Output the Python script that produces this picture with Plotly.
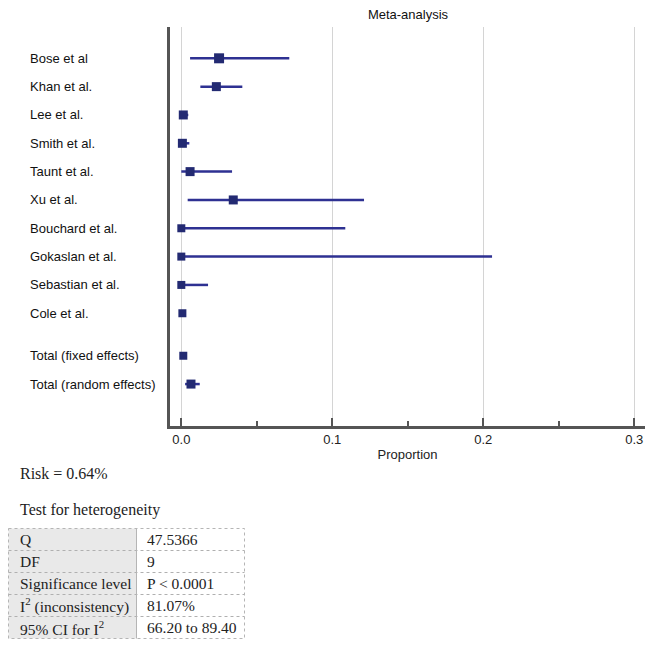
import plotly.graph_objects as go

# ---- data ----
studies = ["Bose et al", "Khan et al.", "Lee et al.", "Smith et al.", "Taunt et al.",
           "Xu et al.", "Bouchard et al.", "Gokaslan et al.", "Sebastian et al.", "Cole et al.",
           "Total (fixed effects)", "Total (random effects)"]
row_pos = [0, 1, 2, 3, 4, 5, 6, 7, 8, 9, 10.5, 11.5]
proportion = [0.0250, 0.0232, 0.0013, 0.0007, 0.0058, 0.0344, 0.0, 0.0, 0.0, 0.0007, 0.0013, 0.0064]
ci_low = [0.0058, 0.0126, 0.0003, 0.0000, 0.0000, 0.0042, 0.0, 0.0, 0.0, 0.0002, 0.0008, 0.0025]
ci_high = [0.0715, 0.0404, 0.0046, 0.0053, 0.0336, 0.1210, 0.1086, 0.2058, 0.0177, 0.0012, 0.0019, 0.0122]
marker_size = [10, 9, 9, 9, 9, 9, 8, 8, 8, 8, 8, 9]

x_ticks = [0.0, 0.1, 0.2, 0.3]
x_tick_labels = ["0.0", "0.1", "0.2", "0.3"]

risk_text = "Risk = 0.64%"
het_title = "Test for heterogeneity"
het_labels = ["Q", "DF", "Significance level", "I<sup>2</sup> (inconsistency)", "95% CI for I<sup>2</sup>"]
het_values = ["47.5366", "9", "P < 0.0001", "81.07%", "66.20 to 89.40"]

# ---- layout geometry (page pixels; the page body has an 8px margin) ----
OFF = 8
W, H = 654 - OFF, 647 - OFF
L, T = 170 - OFF, 27 - OFF
R = W - (645 - OFF)
B = H - (426 - OFF)
PW, PH = W - L - R, H - T - B


def px(x):
    return (x - OFF - L) / PW


def py(y):
    return 1 - (y - OFF - T) / PH


LINE_COL = "#2E3192"
SQ_COL = "#232A72"
SANS = "Liberation Sans, Arial, sans-serif"
SERIF = "Liberation Serif, Times New Roman, serif"

fig = go.Figure()

# CI lines
for i in range(len(studies)):
    fig.add_trace(go.Scatter(
        x=[ci_low[i], ci_high[i]], y=[row_pos[i], row_pos[i]],
        mode="lines", line=dict(color=LINE_COL, width=2.5),
        showlegend=False, hoverinfo="skip"))

# point estimates
fig.add_trace(go.Scatter(
    x=proportion, y=row_pos, mode="markers",
    marker=dict(symbol="square", size=marker_size, color=SQ_COL, opacity=1, line=dict(width=0)),
    showlegend=False, text=studies))

# study labels (left aligned)
for name, pos in zip(studies, row_pos):
    fig.add_annotation(x=px(28), xref="paper", y=pos, yref="y", text=name,
                       showarrow=False, xanchor="left", yanchor="middle",
                       font=dict(family=SANS, size=13, color="#111"))

fig.update_layout(
    width=W, height=H,
    margin=dict(l=L, r=R, t=T, b=B),
    paper_bgcolor="white", plot_bgcolor="white",
    title=dict(text="Meta-analysis", xref="paper", x=px(408), xanchor="center",
               yref="container", y=1 - (14 - OFF) / H, yanchor="middle",
               font=dict(family=SANS, size=13, color="#111")),
    xaxis=dict(range=[-0.0075, 0.3071], tickvals=x_ticks, ticktext=x_tick_labels,
               showgrid=True, gridcolor="#d4d4d4", gridwidth=1, zeroline=False,
               showline=True, linecolor="#555", linewidth=2.5,
               ticks="inside", ticklen=8, tickwidth=1.5, tickcolor="#555",
               minor=dict(tickvals=[0.05, 0.15, 0.25], ticks="inside", ticklen=5,
                          tickwidth=1.5, tickcolor="#555", showgrid=False),
               tickfont=dict(family=SANS, size=13, color="#222"),
               title=dict(text="Proportion", font=dict(family=SANS, size=13, color="#222"), standoff=4),
               fixedrange=True),
    yaxis=dict(range=[12.98, -1.105], showticklabels=False, showgrid=False, zeroline=False,
               showline=True, linecolor="#555", linewidth=2.5, ticks="", fixedrange=True),
)

# Risk text and heterogeneity title
fig.add_annotation(x=px(18), y=py(473), xref="paper", yref="paper", text=risk_text,
                   showarrow=False, xanchor="left", yanchor="middle",
                   font=dict(family=SERIF, size=16, color="#222"))
fig.add_annotation(x=px(18), y=py(510), xref="paper", yref="paper", text=het_title,
                   showarrow=False, xanchor="left", yanchor="middle",
                   font=dict(family=SERIF, size=16, color="#222"))

# table
tx0, tx1, tx2 = 8.5, 136.5, 244.5
ty0, rh = 528.5, 22
n = len(het_labels)
fig.add_shape(type="rect", xref="paper", yref="paper",
              x0=px(tx0), x1=px(tx1), y0=py(ty0), y1=py(ty0 + n * rh),
              fillcolor="#e9e9e9", line=dict(width=0), layer="below")
for k in range(1, n):
    yy = py(ty0 + k * rh)
    fig.add_shape(type="line", xref="paper", yref="paper", x0=px(tx0), x1=px(tx2), y0=yy, y1=yy,
                  line=dict(color="#b0b0b0", width=1, dash="dot"))
fig.add_shape(type="line", xref="paper", yref="paper", x0=px(tx1), x1=px(tx1),
              y0=py(ty0), y1=py(ty0 + n * rh), line=dict(color="#b5b5b5", width=1))
fig.add_shape(type="rect", xref="paper", yref="paper",
              x0=px(tx0), x1=px(tx2), y0=py(ty0), y1=py(ty0 + n * rh),
              line=dict(color="#b5b5b5", width=1, dash="dot"))
for k in range(n):
    yc = py(ty0 + (k + 0.5) * rh)
    fig.add_annotation(x=px(18), y=yc, xref="paper", yref="paper", text=het_labels[k],
                       showarrow=False, xanchor="left", yanchor="middle",
                       font=dict(family=SERIF, size=15.5, color="#222"))
    fig.add_annotation(x=px(145), y=yc, xref="paper", yref="paper", text=het_values[k],
                       showarrow=False, xanchor="left", yanchor="middle",
                       font=dict(family=SERIF, size=15.5, color="#222"))

fig.write_html("out.html")
